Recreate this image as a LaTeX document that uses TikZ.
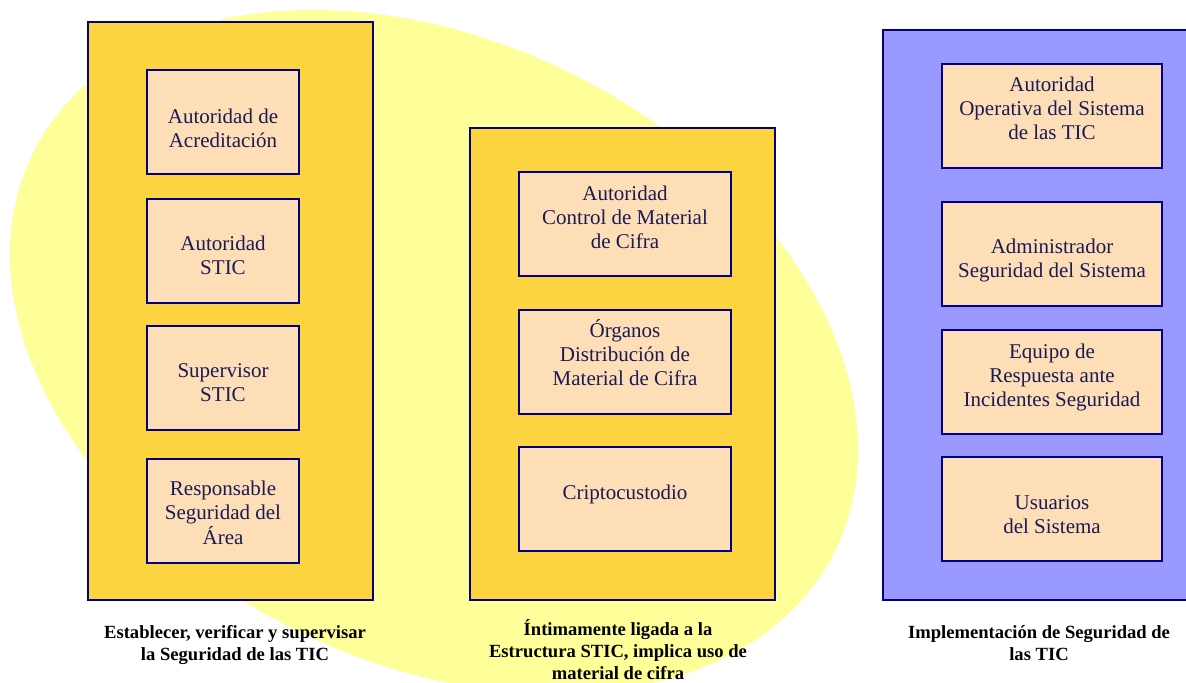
\documentclass[tikz,border=0pt]{standalone}
\usepackage{fontspec}
\setmainfont{Liberation Serif}
\usetikzlibrary{shapes.geometric}

\definecolor{amarillo}{HTML}{FFFF99}
\definecolor{oro}{HTML}{FCD43F}
\definecolor{lila}{HTML}{9999FF}
\definecolor{salmon}{HTML}{FDDEB6}
\definecolor{marino}{HTML}{000080}
\definecolor{tinta}{HTML}{1A1A55}

% texto de una caja, desplazado en vertical sin cambiar su caja
\newcommand\rotulo[2]{\raisebox{#1}[\height][\depth]{\begin{tabular}{@{}c@{}}#2\end{tabular}}}

\tikzset{
  fondo/.style={ellipse, fill=amarillo, inner sep=0pt,
    minimum width=447.6pt, minimum height=310.5pt},
  cajon/.style={draw=marino, line width=1pt, fill=oro, inner sep=0pt},
  cajonazul/.style={cajon, fill=lila},
  rol/.style={draw=marino, line width=1pt, fill=salmon, text=tinta,
    inner sep=0pt, minimum height=52pt,
    font=\fontsize{10.5}{12}\selectfont},
  lema/.style={align=center, font=\fontsize{9.3}{11}\selectfont\bfseries}
}

\begin{document}
\begin{tikzpicture}[x=0.5pt, y=-0.5pt]
      \useasboundingbox (0,0) rectangle (1186,682);

      % fondo amarillo
      \node[fondo, rotate=-26.4] (elipse) at (434,352) {};

      % bloques
      \node[cajon, minimum width=142.5pt, minimum height=289pt] (izq) at (230.5,311) {};
      \node[cajon, minimum width=152.5pt, minimum height=236pt] (centro) at (622.5,364) {};
      \node[cajonazul, minimum width=156pt, minimum height=285pt] (der) at (1039,315) {};

      % columna izquierda
      \node[rol, minimum width=76pt] (acred) at (223,122) {\rotulo{-4.5pt}{Autoridad de\\Acreditación}};
      \node[rol, minimum width=76pt] (autstic) at (223,250.5) {\rotulo{-3.5pt}{Autoridad\\STIC}};
      \node[rol, minimum width=76pt] (superv) at (223,377.5) {\rotulo{-3.5pt}{Supervisor\\STIC}};
      \node[rol, minimum width=76pt] (resp) at (223,511) {\rotulo{-2pt}{Responsable\\Seguridad del\\Área}};

      % columna central
      \node[rol, minimum width=106pt] (acmc) at (625,224) {\rotulo{2pt}{Autoridad\\Control de Material\\de Cifra}};
      \node[rol, minimum width=106pt] (organos) at (625,362) {\rotulo{3pt}{Órganos\\Distribución de\\Material de Cifra}};
      \node[rol, minimum width=106pt] (cripto) at (625,499) {\rotulo{2pt}{Criptocustodio}};

      % columna derecha
      \node[rol, minimum width=110pt] (aos) at (1052,116) {\rotulo{2.5pt}{Autoridad\\Operativa del Sistema\\de las TIC}};
      \node[rol, minimum width=110pt] (adm) at (1052,254) {\rotulo{-3.5pt}{Administrador\\Seguridad del Sistema}};
      \node[rol, minimum width=110pt] (ers) at (1052,381.5) {\rotulo{2pt}{Equipo de\\Respuesta ante\\Incidentes Seguridad}};
      \node[rol, minimum width=110pt] (usu) at (1052,509) {\rotulo{-4pt}{Usuarios\\del Sistema}};

      % lemas
      \node[lema] (lemaizq) at (235,645) {Establecer, verificar y supervisar\\la Seguridad de las TIC};
      \node[lema] (lemacentro) at (618,650) {Íntimamente ligada a la\\Estructura STIC, implica uso de\\material de cifra};
      \node[lema] (lemader) at (1039,643) {Implementación de Seguridad de\\las TIC};
    \end{tikzpicture}
\end{document}
